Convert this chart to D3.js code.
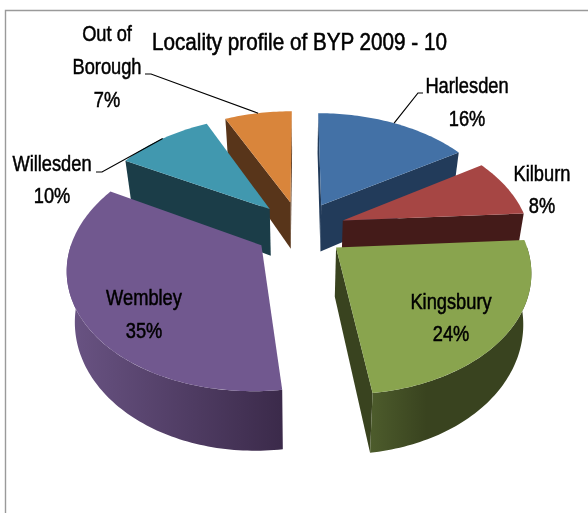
<!DOCTYPE html>
<html><head><meta charset="utf-8">
<script src="https://cdn.jsdelivr.net/npm/d3@7/dist/d3.min.js"></script>
<style>html,body{margin:0;padding:0;background:#fff}svg{display:block;filter:blur(0.4px)}
text{font-family:"Liberation Sans",sans-serif;fill:#000;stroke:#000;text-anchor:middle}</style>
</head><body><svg id="c" width="588" height="513"></svg>
<script>
const categories = ["Harlesden","Kilburn","Kingsbury","Wembley","Willesden","Out of Borough"];
const values = [16,8,24,35,10,7];
const titleText = "Locality profile of BYP 2009 - 10";

const topColors  = ["#4371a6","#a64644","#89a44e","#71588f","#4198af","#d9853b"];
const wallLight  = ["#223b5a","#441b19","#4d5c2c","#6a5484","#1b3d48","#58351a"];
const wallDark   = ["#223b5a","#441b19","#39431f","#3b2a4a","#1b3d48","#58351a"];
const wallFade   = [1,1,0.35,1,1,1];

// projection of the exploded pie
const cx=300, cy=229, R=186, q=115, k=0.17, e=0.245, depth=48, taper=0.035;
function proj(wx,wz,h){ const p=1/(1-k*wz); return [cx+R*wx*p*(1-taper*h), cy+q*wz*p+h*depth*p]; }

const svg=d3.select("#c");
const defs=svg.append("defs");
svg.append("path").attr("d","M5.5,513V10.5H588").attr("fill","none").attr("stroke","#9a9a9a").attr("stroke-width",1.4);

const arcs=d3.pie().sort(null).value(d=>d)(values);
const line=d3.line();
const slices=arcs.map((a,i)=>{
  const mid=(a.startAngle+a.endAngle)/2;
  const ox=e*Math.sin(mid), oz=-e*Math.cos(mid);
  const at=(ang,h=0,r=1)=>proj(ox+r*Math.sin(ang),oz-r*Math.cos(ang),h);
  return {i,a,mid,ox,oz,at,name:categories[i],value:values[i]};
});

function drawSlice(s){
  const g=svg.append("g");
  const {a,at,i}=s;
  const angs=(s0,s1)=>{const n=Math.max(2,Math.ceil((s1-s0)/0.02));return d3.range(n+1).map(j=>s0+(s1-s0)*j/n);};
  defs.append("linearGradient").attr("id","w"+i).attr("x1",0).attr("x2",1).attr("y1",0).attr("y2",0)
    .selectAll("stop").data([wallLight[i],wallDark[i]]).join("stop")
    .attr("offset",(d,j)=>j*wallFade[i]).attr("stop-color",d=>d);
  const interior=at((a.startAngle+a.endAngle)/2,0,0.5);
  const apex=proj(s.ox,s.oz,0), apexB=proj(s.ox,s.oz,1);
  [a.startAngle,a.endAngle].forEach(ang=>{
    const o=at(ang), oB=at(ang,1);
    const t=(interior[0]-apex[0])/((o[0]-apex[0])||1e-6);
    const yOnEdge=apex[1]+(o[1]-apex[1])*t;
    if(interior[1]<yOnEdge){
      g.append("path").attr("d",line([apex,o,oB,apexB])+"Z").attr("fill",wallDark[i]);
    }
  });
  const s0=Math.max(a.startAngle,Math.PI/2), s1=Math.min(a.endAngle,3*Math.PI/2);
  if(s1>s0){
    const rng=angs(s0,s1);
    const pts=rng.map(x=>at(x)).concat(rng.slice().reverse().map(x=>at(x,1)));
    g.append("path").attr("d",line(pts)+"Z").attr("fill",`url(#w${i})`);
  }
  const rim=angs(a.startAngle,a.endAngle).map(x=>at(x));
  g.append("path").attr("d",line([apex,...rim])+"Z").attr("fill",topColors[i]);
}
// back to front
slices.slice().sort((p,r)=>p.oz-r.oz).forEach(drawSlice);

// leader lines run from the rim at the slice's mid angle to its label
const leaderEnds={"Harlesden":[[423,93],[418,93]],"Willesden":[[96,172],[102,172]],"Out of Borough":[[145,74],[151,74]]};
slices.forEach(s=>{
  const l=leaderEnds[s.name]; if(!l) return;
  svg.append("path").attr("d",line([...l,s.at(s.mid)])).attr("fill","none").attr("stroke","#000").attr("stroke-width",1.2);
});

function putText(t,x,y,size,sx,sw){
  svg.append("text").attr("transform",`translate(${x},${y}) scale(${sx},1)`)
    .attr("font-size",size).attr("stroke-width",sw).text(t);
}
const labelPos={"Harlesden":[467,93,33],"Kilburn":[542,181,32],"Kingsbury":[451,309,32],"Wembley":[144,305,33],"Willesden":[52,171,32],"Out of Borough":[107,41,33]};
slices.forEach(s=>{
  const [x,y,dy]=labelPos[s.name];
  const lines=s.name==="Out of Borough"?["Out of","Borough"]:[s.name];
  lines.concat([s.value+"%"]).forEach((t,j)=>putText(t,x,y+j*dy,21.5,0.85,0.5));
});
putText(titleText,299.5,50,23.5,0.88,0.55);
</script></body></html>
